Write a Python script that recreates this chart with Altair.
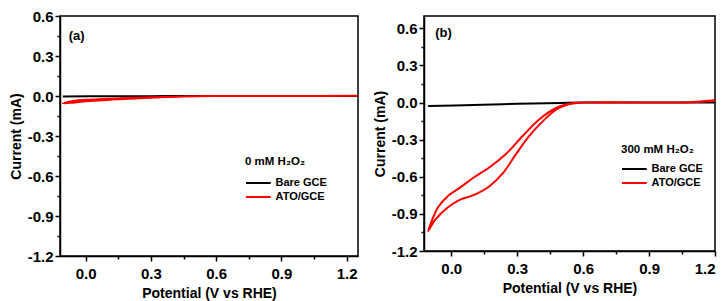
import altair as alt
import pandas as pd

# ---------------- data ----------------
series_names = ["Bare GCE", "ATO/GCE"]
series_colors = ["#000000", "#ff0000"]

# Panel (a): 0 mM H2O2
a_bare_x = [-0.105, 0.10, 0.30, 0.50, 0.90, 1.25]
a_bare_y = [-0.003, -0.002, -0.001, 0.0, 0.0, 0.0]
a_ato_x = [1.25, 0.90, 0.60, 0.45, 0.30, 0.15, 0.00, -0.05, -0.105,
           -0.05, 0.00, 0.15, 0.30, 0.45, 0.60, 0.90, 1.25]
a_ato_y = [0.0, 0.0, 0.0, -0.004, -0.013, -0.025, -0.040, -0.048, -0.056,
           -0.036, -0.029, -0.018, -0.009, -0.003, 0.0, 0.0, 0.001]

# Panel (b): 300 mM H2O2
b_bare_x = [-0.105, 0.10, 0.30, 0.50, 0.60, 1.20]
b_bare_y = [-0.028, -0.019, -0.010, -0.003, 0.0, 0.001]
b_ato_x = [1.20, 1.10, 1.00, 0.60, 0.53, 0.477, 0.417, 0.356, 0.296, 0.235,
           0.174, 0.099, 0.038, -0.015, -0.075, -0.105,
           -0.06, -0.015, 0.038, 0.099, 0.174, 0.25, 0.326, 0.40, 0.477,
           0.55, 0.60, 1.00, 1.10, 1.20]
b_ato_y = [0.015, 0.003, 0.0, 0.0, -0.015, -0.058, -0.15, -0.268, -0.413, -0.571,
           -0.676, -0.75, -0.786, -0.847, -0.952, -1.04,
           -0.847, -0.755, -0.69, -0.61, -0.523, -0.413, -0.268, -0.137, -0.044,
           -0.006, 0.0, 0.0, 0.004, 0.018]

x_major = [0.0, 0.3, 0.6, 0.9, 1.2]
x_minor = [0.15, 0.45, 0.75, 1.05]
y_major = [-1.2, -0.9, -0.6, -0.3, 0.0, 0.3, 0.6]
y_minor = [-1.05, -0.75, -0.45, -0.15, 0.15, 0.45]

panel_labels = ["(a)", "(b)"]
panel_label_x = [-0.078, -0.073]
panel_label_y = [0.45, 0.565]
legend_titles = ["0 mM H\u2082O\u2082", "300 mM H\u2082O\u2082"]

FONT = "Liberation Sans"


def make_df(bx, by, ax, ay):
    rows = []
    for i, (x, y) in enumerate(zip(bx, by)):
        rows.append({"x": x, "y": y, "series": series_names[0], "i": i})
    for i, (x, y) in enumerate(zip(ax, ay)):
        rows.append({"x": x, "y": y, "series": series_names[1], "i": i})
    return pd.DataFrame(rows)


label_expr = "(datum.value < 0 ? '-' : '') + format(abs(datum.value), '.1f')"


def panel(df, xdom, ydom, w, h, k, lx, ly, ltp):
    xs = alt.Scale(domain=xdom, nice=False, zero=False)
    ys = alt.Scale(domain=ydom, nice=False, zero=False)
    lines = alt.Chart(df).mark_line(
        strokeWidth=2, interpolate="catmull-rom", clip=True
    ).encode(
        x=alt.X("x:Q", scale=xs, axis=alt.Axis(
            values=x_major, labelExpr=label_expr, title="Potential (V vs RHE)",
            orient="bottom")),
        y=alt.Y("y:Q", scale=ys, axis=alt.Axis(
            values=y_major, labelExpr=label_expr, title="Current (mA)",
            orient="left")),
        color=alt.Color("series:N", title=legend_titles[k],
                        scale=alt.Scale(domain=series_names, range=series_colors),
                        legend=alt.Legend(orient="none", legendX=lx, legendY=ly,
                                          titlePadding=ltp)),
        order="i:Q",
    )
    lab = pd.DataFrame({"x": [panel_label_x[k]], "y": [panel_label_y[k]],
                        "t": [panel_labels[k]]})
    text = alt.Chart(lab).mark_text(
        align="left", baseline="middle", font=FONT, fontSize=13,
        fontWeight="bold", color="black"
    ).encode(
        x=alt.X("x:Q", scale=xs, axis=alt.Axis(
            values=x_minor, labels=False, domain=False, tickSize=3,
            title=None, orient="bottom")),
        y=alt.Y("y:Q", scale=ys, axis=alt.Axis(
            values=y_minor, labels=False, domain=False, tickSize=3,
            title=None, orient="left")),
        text="t:N",
    )
    return alt.layer(lines, text).resolve_axis(
        x="independent", y="independent").properties(width=w, height=h)


df_a = make_df(a_bare_x, a_bare_y, a_ato_x, a_ato_y)
df_b = make_df(b_bare_x, b_bare_y, b_ato_x, b_ato_y)

pa = panel(df_a, [-0.118, 1.252], [-1.2, 0.6], 298, 240, 0, 185, 140, 9)
pb = panel(df_b, [-0.124, 1.2], [-1.2, 0.7], 291, 235, 1, 197, 128, 7)

chart = alt.hconcat(pa, pb, spacing=13).resolve_scale(
    color="independent"
).properties(
    padding={"left": 0, "top": 0, "right": 0, "bottom": 0}
).configure_view(
    stroke="black", strokeWidth=1.5
).configure_axis(
    grid=False, domainColor="black", domainWidth=1.5, tickColor="black",
    tickWidth=1.5, tickSize=5, labelFont=FONT,
    labelFontSize=15, labelFontWeight="bold", labelColor="black",
    titleFont=FONT, titleFontSize=14, titleFontWeight="bold",
    titleColor="black"
).configure_axisX(
    labelPadding=5, titlePadding=5
).configure_axisY(
    labelPadding=2, titlePadding=4
).configure_legend(
    symbolType="M-1,0H3.5", symbolSize=121, symbolStrokeWidth=2,
    labelOffset=17.5, rowPadding=2, labelFont=FONT, labelFontSize=11,
    labelFontWeight="bold", labelColor="black", titleFont=FONT,
    titleFontSize=11.5, titleFontWeight="bold", titleColor="black",
    padding=0
)

chart.save("out.html", embed_options={"renderer": "svg", "actions": False})
